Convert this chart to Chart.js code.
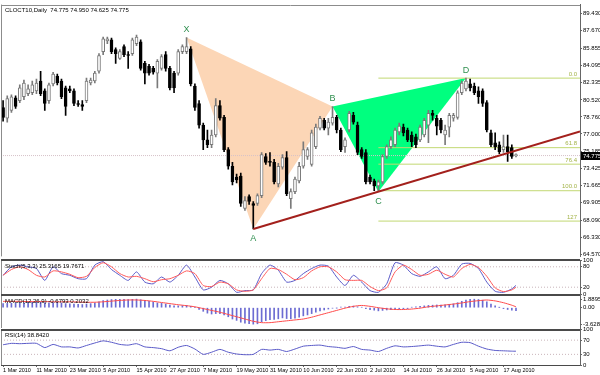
<!DOCTYPE html>
<html>
<head>
<meta charset="utf-8">
<title>CLOCT10 Daily</title>
<script src="https://cdn.jsdelivr.net/npm/chart.js@4.4.1/dist/chart.umd.min.js"></script>
<style>
  html, body { margin: 0; padding: 0; background: #fff; }
  body { position: relative; width: 600px; height: 375px; overflow: hidden; }
  canvas { position: absolute; left: 0; }
</style>
</head>
<body>
<canvas id="mainChart"  width="600" height="261" style="top:0px"></canvas>
<canvas id="stochChart" width="600" height="50"  style="top:250px"></canvas>
<canvas id="macdChart"  width="600" height="50"  style="top:285px"></canvas>
<canvas id="rsiChart"   width="600" height="53"  style="top:322px"></canvas>
<script>
/* ══════════════════════════════════════════════
   CLOCT10 daily — candles, XABCD pattern, Stoch / MACD / RSI
══════════════════════════════════════════════ */

// ── candles, one per trading day (bar 0 = 1 Mar 2010) ──
const opens = [
  79.73,78.62,79.43,80.74,80.44,80.84,81.15,81.25,81.45,82.46,
  81.45,80.44,82.16,82.96,82.46,81.75,81.65,81.45,80.14,80.04,
  80.44,82.26,82.46,83.47,85.49,86.60,86.70,85.69,84.78,86.00,
  85.19,85.29,86.30,86.50,84.28,83.97,83.77,83.27,83.77,85.19,
  83.77,83.27,83.27,85.49,85.49,85.79,81.95,80.14,77.91,76.40,
  75.89,76.90,79.93,78.72,75.39,73.67,72.56,72.66,69.33,70.54,
  69.83,69.83,70.64,74.68,74.18,74.08,71.85,73.57,74.58,70.34,
  71.05,72.16,73.67,74.68,73.87,75.69,77.61,78.42,77.61,78.12,
  78.72,77.41,75.69,77.41,78.92,77.91,75.39,75.09,72.56,72.16,
  71.65,72.06,74.68,75.69,75.89,77.21,77.71,77.41,76.90,76.70,
  76.40,76.90,77.91,79.13,78.62,78.42,76.90,77.71,78.62,78.72,
  81.25,81.65,82.16,81.95,81.45,81.45,80.24,77.11,76.10,75.89,
  75.39,75.69,75.59,74.775];
const highs = [
  80.44,80.94,81.05,80.94,82.06,82.56,82.06,82.46,82.66,83.47,
  81.65,82.26,83.37,83.17,82.66,81.95,81.95,81.65,80.44,80.44,
  82.76,82.76,83.47,85.29,87.00,87.00,86.90,85.89,85.69,86.20,
  85.49,86.90,87.21,86.70,84.48,84.18,83.97,84.68,85.19,85.49,
  83.97,83.47,85.69,86.20,86.95,86.00,82.16,80.44,78.12,77.41,
  77.41,80.64,80.44,78.92,75.59,74.08,72.86,72.96,70.54,70.74,
  70.04,70.84,75.09,74.98,75.09,74.38,73.97,74.88,75.19,71.35,
  72.56,74.08,76.20,75.59,77.41,78.01,78.82,78.62,78.62,79.83,
  78.92,77.61,76.60,79.33,79.23,78.22,75.59,75.39,72.76,72.36,
  72.26,74.88,75.89,76.70,77.61,78.12,78.01,77.61,77.21,77.00,
  77.91,78.62,79.43,79.43,78.92,78.62,77.91,79.13,79.13,81.45,
  82.46,82.76,82.66,82.26,81.85,81.65,80.44,77.41,77.11,76.20,
  76.90,76.90,75.89,74.95];
const lows = [
  78.32,78.22,79.23,79.63,80.24,80.54,80.94,81.05,81.15,80.94,
  79.43,80.14,81.95,82.06,80.64,78.92,81.25,79.93,79.83,79.43,
  80.24,82.06,82.26,83.27,85.19,86.30,85.29,84.28,84.68,84.98,
  83.77,85.09,86.10,83.57,82.16,83.07,83.17,81.75,83.57,83.47,
  81.55,81.25,83.07,85.29,85.29,81.95,79.43,77.61,75.39,75.59,
  75.59,76.70,78.42,75.19,73.37,71.75,71.95,69.53,69.13,69.73,
  67.21,69.63,70.44,73.87,73.67,71.85,71.55,73.37,70.64,69.33,
  70.84,71.95,73.47,74.38,73.67,75.49,77.41,77.41,76.90,77.91,
  77.11,75.19,75.09,77.21,78.01,74.88,74.48,71.85,71.85,71.15,
  71.05,71.85,74.48,75.49,75.69,76.90,76.80,76.20,75.69,75.59,
  76.20,76.70,76.10,78.42,76.90,77.11,75.89,76.70,78.32,78.52,
  81.05,81.45,81.45,81.05,80.14,79.83,77.21,75.69,75.39,74.98,
  75.09,74.18,74.48,74.625];
const closes = [
  78.72,80.64,80.84,79.83,81.75,82.26,81.65,82.06,82.26,81.15,
  80.14,82.06,83.17,82.26,80.84,79.83,81.45,80.14,80.04,79.83,
  82.46,82.56,83.27,85.09,86.80,86.80,85.49,85.29,85.49,85.19,
  85.09,86.70,87.00,83.77,83.27,83.27,83.37,84.48,84.98,83.77,
  81.75,81.75,85.49,86.00,86.00,82.16,79.73,77.91,76.40,75.89,
  76.90,79.93,78.62,75.39,73.67,72.06,72.26,69.83,70.14,70.04,
  69.63,70.64,74.88,74.08,74.08,72.06,73.67,74.58,70.84,71.05,
  72.36,73.67,75.39,75.39,77.11,77.71,78.62,77.61,78.22,78.72,
  77.41,75.39,76.40,79.13,78.22,75.09,74.68,72.06,72.06,71.65,
  72.06,74.68,75.69,76.40,77.41,77.81,77.11,76.40,76.20,75.89,
  77.71,78.42,79.13,78.92,77.81,77.41,77.41,78.92,78.92,81.25,
  82.26,82.46,81.75,81.25,80.84,80.14,77.41,75.89,75.69,75.19,
  75.69,75.19,74.68,74.775];

const priceTicks = [89.43, 87.67, 85.855, 84.095, 82.335, 80.52, 78.76, 77.0,
                    75.185, 73.425, 71.665, 69.905, 68.09, 66.33, 64.57];
const lastPrice  = 74.775;
const headerText = 'CLOCT10,Daily  74.775 74.950 74.625 74.775';

// XABCD pattern (bar, price)
const patternNames  = ['X', 'A', 'B', 'C', 'D'];
const patternBars   = [44, 60, 79, 90, 111];
const patternPrices = [86.95, 67.21, 79.83, 71.05, 82.76];

// trend ray A -> C, out to the right edge
const trendBars   = [60, 138.35];
const trendPrices = [67.21, 77.25];

// fibo levels, start at C
const fibNames  = ['0.0', '61.8', '76.4', '100.0', '127'];
const fibPrices = [82.76, 75.59, 73.89, 71.15, 68.02];
const fibStart  = 90;

const dateTickBars   = [0, 8, 16, 24, 32, 40, 48, 56, 64, 72, 80, 88, 96, 104, 112, 120];
const dateTickLabels = ['1 Mar 2010', '11 Mar 2010', '23 Mar 2010', '5 Apr 2010', '15 Apr 2010',
  '27 Apr 2010', '7 May 2010', '19 May 2010', '31 May 2010', '10 Jun 2010', '22 Jun 2010',
  '2 Jul 2010', '14 Jul 2010', '26 Jul 2010', '5 Aug 2010', '17 Aug 2010'];

// ── indicators (lines read every second bar) ──
const sampleBars = [0,2,4,6,8,10,12,14,16,18,20,22,24,26,28,30,32,34,36,38,40,42,44,46,48,50,
  52,54,56,58,60,62,64,66,68,70,72,74,76,78,80,82,84,86,88,90,92,94,96,98,100,102,104,106,108,
  110,112,114,116,118,120,122,123];
const stochK = [55,80,85,80,75,40,80,60,55,45, 45,85,95,72,55,40,65,35,30,50,
  35,55,85,50,12,20,40,30,5,10, 12,60,85,70,35,40,60,75,85,82,
  50,25,55,35,10,5,30,92,85,60, 52,65,80,45,55,88,90,75,35,8, 5,15,25.3165];
const stochD = [55,72,80,72,55,50,68,65,58,48, 52,78,92,80,60,50,52,45,36,42,
  45,55,68,60,25,22,35,30,12,8, 12,45,75,72,58,42,48,68,80,80,
  65,42,40,40,22,10,18,65,85,72, 55,58,70,58,50,75,87,78,52,18, 7,12,19.7671];
const stochLevels = [20, 80];
const stochTicks  = [100, 80, 20, 0];

// MACD main, one value per bar
const macdMain = [
  0.9,0.95,1.0,1.0,1.05,1.1,1.15,1.2,1.25,1.2,
  1.1,1.1,1.15,1.15,1.05,0.9,0.85,0.8,0.75,0.7,
  0.8,0.9,1.05,1.3,1.55,1.7,1.8,1.85,1.85,1.85,
  1.8,1.85,1.8895,1.75,1.6,1.4,1.2,1.05,0.95,0.8,
  0.6,0.4,0.4,0.45,0.5,0.3,0.0,-0.4,-0.8,-1.2,
  -1.4,-1.3,-1.3,-1.6,-2.0,-2.5,-2.8,-3.2,-3.4,-3.55,
  -3.6287,-3.55,-3.1,-2.85,-2.65,-2.6,-2.45,-2.25,-2.4,-2.45,
  -2.3,-2.1,-1.8,-1.6,-1.3,-1.0,-0.7,-0.5,-0.3,-0.1,
  -0.05,0.1,0.15,0.3,0.35,0.2,0.1,-0.2,-0.45,-0.55,
  -0.7,-0.6,-0.5,-0.45,-0.4,-0.3,-0.25,-0.2,0.1,0.2,
  0.3,0.4,0.5,0.55,0.6,0.6,0.65,0.75,0.85,1.1,
  1.4,1.7,1.85,1.87,1.8,1.65,1.3,0.8,0.4,0.05,
  -0.2,-0.4,-0.55,-0.6793];
const macdSignal = [1.4,1.4,1.4,1.35,1.35,1.35,1.3,1.3,1.3,1.25, 1.2,1.2,1.3,1.45,1.6,1.7,1.7,1.6,1.4,1.15,
  0.9,0.65,0.45,0.2,-0.2,-0.6,-1.0,-1.5,-2.0,-2.5, -3.0,-3.3,-3.3,-3.1,-2.9,-2.7,-2.5,-2.1,-1.6,-1.1,
  -0.6,-0.1,0.3,0.5,0.3,0.0,-0.25,-0.4,-0.4,-0.3, -0.1,0.2,0.4,0.6,0.8,1.05,1.35,1.55,1.7,1.5,
  1.1,0.55,0.2032];
const macdTicks      = [1.8895, 0, -3.6287];
const macdTickLabels = ['1.8895', '0.00', '-3.6287'];

const rsi14 = [57,61,60,61,61,49,58,51,51,48, 55,62,68,64,58,56,60,51,49,46,
  40,50,55,45,30,36,44,36,31,29, 30,44,42,44,38,45,53,55,56,52,
  50,47,52,44,42,38,47,54,51,52, 54,56,53,51,58,64,63,53,45,41, 40,39,38.842];
const rsiLevels = [30, 70];
const rsiTicks  = [100, 70, 30, 0];

/* ── shared bits ── */
Chart.defaults.font.family = '"Liberation Sans", Arial, sans-serif';
Chart.defaults.font.size = 6;
Chart.defaults.color = '#000';

const X_MIN = -0.5, X_MAX = 138.35;
const xHidden = { type: 'linear', min: X_MIN, max: X_MAX, offset: false, display: false };
const noChrome = { legend: { display: false }, tooltip: { enabled: false } };

const pts = (xs, ys) => xs.map((x, i) => ({ x, y: ys[i] }));

function rightAxis(min, max, ticks, fmt) {
  return {
    position: 'right', min, max,
    afterFit: s => { s.width = 20; },
    afterBuildTicks: s => { s.ticks = ticks.map(v => ({ value: v })); },
    ticks: { callback: fmt, autoSkip: false, padding: 1, color: '#000', font: { size: 6 } },
    grid: { drawOnChartArea: false, tickLength: 2, color: '#666' },
    border: { display: true, color: '#666' },
  };
}

const levelLine = v => ({
  type: 'line', data: [{ x: X_MIN, y: v }, { x: X_MAX, y: v }],
  borderColor: '#c9b4ba', borderWidth: 1, borderDash: [1, 2], pointRadius: 0, order: 9,
});

// frame, separator and the small caption in the top-left corner
const panelPlugin = {
  id: 'panel',
  afterDraw(chart, args, opts) {
    const { ctx, chartArea: a } = chart;
    ctx.save();
    ctx.strokeStyle = '#8c8c8c'; ctx.lineWidth = 1;
    ctx.beginPath();
    ctx.moveTo(Math.round(a.left) + 0.5, a.top); ctx.lineTo(Math.round(a.left) + 0.5, a.bottom);
    if (!opts.sep) { ctx.moveTo(a.left, Math.round(a.top) + 0.5); ctx.lineTo(a.right, Math.round(a.top) + 0.5); }
    ctx.stroke();
    if (opts.sep) {
      ctx.strokeStyle = '#4a4a4a'; ctx.lineWidth = 2;
      ctx.beginPath(); ctx.moveTo(a.left, Math.round(a.top)); ctx.lineTo(a.right, Math.round(a.top)); ctx.stroke();
    }
    if (opts.bottomLine) {
      ctx.strokeStyle = '#4a4a4a'; ctx.lineWidth = 1;
      ctx.beginPath(); ctx.moveTo(a.left, Math.round(a.bottom) - 0.5); ctx.lineTo(a.right, Math.round(a.bottom) - 0.5); ctx.stroke();
    }
    ctx.fillStyle = '#000'; ctx.font = '6px "Liberation Sans"';
    ctx.textAlign = 'left'; ctx.textBaseline = 'top';
    ctx.fillText(opts.title, a.left + 4, a.top + 3);
    ctx.restore();
  },
};

// pattern letters, fibo captions and the last-price box
const mainOverlay = {
  id: 'mainOverlay',
  afterDatasetsDraw(chart) {
    const { ctx, chartArea: a, scales: { x, y } } = chart;
    ctx.save();
    ctx.font = '9px "Liberation Sans"'; ctx.fillStyle = '#2f8f4f';
    ctx.textAlign = 'center'; ctx.textBaseline = 'middle';
    patternNames.forEach((n, i) => {
      const high = i % 2 === 0;
      ctx.fillText(n, x.getPixelForValue(patternBars[i]), y.getPixelForValue(patternPrices[i]) + (high ? -8 : 10));
    });
    ctx.font = '6px "Liberation Sans"'; ctx.fillStyle = '#a3b348';
    ctx.textAlign = 'right'; ctx.textBaseline = 'bottom';
    fibNames.forEach((n, i) => ctx.fillText(n, a.right - 3, y.getPixelForValue(fibPrices[i]) - 1));
    ctx.restore();
  },
  afterDraw(chart) {
    const { ctx, chartArea: a, scales: { y } } = chart;
    const py = Math.round(y.getPixelForValue(lastPrice));
    ctx.save();
    ctx.fillStyle = '#000';
    ctx.fillRect(a.right + 1, py - 4, 19, 8);
    ctx.fillStyle = '#fff'; ctx.font = '6px "Liberation Sans"';
    ctx.textAlign = 'left'; ctx.textBaseline = 'middle';
    ctx.fillText(lastPrice.toFixed(3), a.right + 3, py);
    ctx.restore();
  },
};

/* ── main price panel ── */
const bodyData = [], wickData = [], bodyFill = [], bodyEdge = [];
opens.forEach((o, i) => {
  const up = closes[i] >= o;
  bodyData.push({ x: i, y: [o, closes[i]] });
  wickData.push({ x: i, y: [lows[i], highs[i]] });
  bodyFill.push(up ? '#ffffff' : '#000000');
  bodyEdge.push(up ? '#7a7a7a' : '#000000');
});

const tri = (idx, color) => ({
  type: 'line', data: idx.map(k => ({ x: patternBars[k], y: patternPrices[k] })),
  fill: 'shape', backgroundColor: color, borderColor: 'rgba(0,0,0,0)', borderWidth: 0,
  pointRadius: 0, order: 20,
});

new Chart(document.getElementById('mainChart'), {
  type: 'bar',
  data: {
    datasets: [
      tri([0, 1, 2], '#fcd6b6'),
      tri([2, 3, 4], '#00ff7f'),
      ...fibPrices.map(p => ({
        type: 'line', data: [{ x: fibStart, y: p }, { x: X_MAX, y: p }],
        borderColor: '#c2d872', borderWidth: 1, pointRadius: 0, order: 10,
      })),
      { type: 'line', data: [{ x: X_MIN, y: lastPrice }, { x: X_MAX, y: lastPrice }],
        borderColor: '#d6c2c8', borderWidth: 1, borderDash: [1, 1], pointRadius: 0, order: 9 },
      { type: 'bar', data: wickData, backgroundColor: bodyEdge, barThickness: 1, grouped: false, order: 4 },
      { type: 'bar', data: bodyData, backgroundColor: bodyFill, borderColor: bodyEdge, borderWidth: 1,
        borderSkipped: false, barThickness: 3, minBarLength: 1, grouped: false, order: 3 },
      { type: 'line', data: pts(trendBars, trendPrices), borderColor: '#a3201c', borderWidth: 2,
        pointRadius: 0, order: 1 },
    ],
  },
  options: {
    responsive: false, animation: false,
    layout: { padding: { left: 1, top: 2, bottom: 2, right: 0 } },
    scales: { x: xHidden, y: rightAxis(64.38, 90.34, priceTicks, v => v.toFixed(3)) },
    plugins: { ...noChrome, panel: { title: headerText } },
  },
  plugins: [panelPlugin, mainOverlay],
});

/* ── Stochastic ── */
new Chart(document.getElementById('stochChart'), {
  type: 'line',
  data: {
    datasets: [
      ...stochLevels.map(levelLine),
      { data: pts(sampleBars, stochK), borderColor: '#5a5ac8', borderWidth: 1, pointRadius: 0, tension: 0.2, order: 2 },
      { data: pts(sampleBars, stochD), borderColor: '#ff5a5a', borderWidth: 1, pointRadius: 0, tension: 0.2, order: 1 },
    ],
  },
  options: {
    responsive: false, animation: false,
    layout: { padding: { left: 1, top: 10, bottom: 6, right: 0 } },
    scales: { x: xHidden, y: rightAxis(0, 100, stochTicks, v => String(v)) },
    plugins: { ...noChrome, panel: { title: 'Stoch(5,3,3) 25.3165 19.7671', sep: true } },
  },
  plugins: [panelPlugin],
});

/* ── MACD ── */
new Chart(document.getElementById('macdChart'), {
  type: 'bar',
  data: {
    datasets: [
      { type: 'bar', data: macdMain.map((v, i) => ({ x: i, y: v })), backgroundColor: '#6c6cd2',
        barThickness: 1, grouped: false, order: 2 },
      { type: 'line', data: pts(sampleBars, macdSignal), borderColor: '#ff4a4a', borderWidth: 1,
        pointRadius: 0, tension: 0.2, order: 1 },
    ],
  },
  options: {
    responsive: false, animation: false,
    layout: { padding: { left: 1, top: 10, bottom: 7, right: 0 } },
    scales: { x: xHidden, y: rightAxis(-4.48, 2.80, macdTicks, (v, i) => macdTickLabels[i]) },
    plugins: { ...noChrome, panel: { title: 'MACD(12,26,9) -0.6793 0.2032', sep: true } },
  },
  plugins: [panelPlugin],
});

/* ── RSI + date axis ── */
new Chart(document.getElementById('rsiChart'), {
  type: 'line',
  data: {
    datasets: [
      ...rsiLevels.map(levelLine),
      { data: pts(sampleBars, rsi14), borderColor: '#5a5ac8', borderWidth: 1, pointRadius: 0, tension: 0.2, order: 1 },
    ],
  },
  options: {
    responsive: false, animation: false,
    layout: { padding: { left: 1, top: 7.5, bottom: 0, right: 0 } },
    scales: {
      x: {
        type: 'linear', min: X_MIN, max: X_MAX, offset: false, position: 'bottom',
        afterFit: s => { s.height = 10; },
        afterBuildTicks: s => { s.ticks = dateTickBars.map(v => ({ value: v })); },
        ticks: { callback: (v, i) => dateTickLabels[i], align: 'start', maxRotation: 0, autoSkip: false,
                 padding: 0, color: '#000', font: { size: 5.5 } },
        grid: { drawOnChartArea: false, tickLength: 2, color: '#666' },
        border: { display: true, color: '#4a4a4a' },
      },
      y: rightAxis(0, 100, rsiTicks, v => String(v)),
    },
    plugins: { ...noChrome, panel: { title: 'RSI(14) 38.8420', sep: true } },
  },
  plugins: [panelPlugin],
});
</script>
</body>
</html>
